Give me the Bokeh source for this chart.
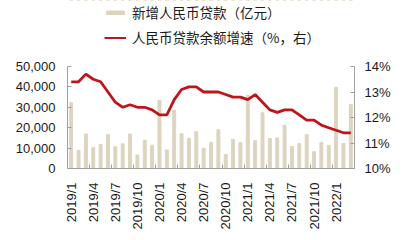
from bokeh.plotting import figure
from bokeh.layouts import column
from bokeh.models import (Range1d, LinearAxis, FixedTicker, NumeralTickFormatter,
                          PrintfTickFormatter, Legend, LegendItem, ColumnDataSource)
from bokeh.embed import file_html
from bokeh.resources import INLINE
import math

months = [f"{y}/{m}" for y in (2019, 2020, 2021) for m in range(1, 13)] + ["2022/1", "2022/2", "2022/3"]

new_loans = [32300, 8858, 16900, 10200, 11800, 16600, 10600, 12100, 16900, 6613, 13900, 11400,
             33400, 9057, 28500, 17000, 14800, 18100, 9927, 12800, 19000, 6898, 14300, 12600,
             35800, 13600, 27300, 14700, 15000, 21200, 10800, 12200, 16600, 8262, 12700, 11300,
             39800, 12300, 31300]

loan_growth = [13.4, 13.4, 13.7, 13.5, 13.4, 13.0, 12.6, 12.4, 12.5, 12.4, 12.4, 12.3,
               12.1, 12.1, 12.7, 13.1, 13.2, 13.2, 13.0, 13.0, 13.0, 12.9, 12.8, 12.8,
               12.7, 12.9, 12.6, 12.3, 12.2, 12.3, 12.3, 12.1, 11.9, 11.9, 11.7, 11.6,
               11.5, 11.4, 11.4]

left_ticks = [0, 10000, 20000, 30000, 40000, 50000]
right_ticks = [10, 11, 12, 13, 14]
label_every = 3

bar_label = "新增人民币贷款（亿元）"
line_label = "人民币贷款余额增速（%，右）"

idx = list(range(len(months)))
src = ColumnDataSource(dict(x=idx, loans=new_loans, growth=loan_growth))

num_font = "Liberation Sans"
cjk_font = "Noto Sans CJK SC"
axis_col = "#a0a0a0"
txt_col = "#1a1a1a"
bar_col = "#ddd4c0"
line_col = "#c0141b"

# ---- legend strip on top (its frame is aligned with the main chart's frame) ----
lg = figure(width=411, height=50, output_backend="svg", toolbar_location=None,
            x_range=Range1d(-0.5, len(months) - 0.5), y_range=Range1d(-2, -1),
            min_border_left=67, min_border_right=57, min_border_top=0, min_border_bottom=0,
            x_axis_type=None, y_axis_type=None)
lg.outline_line_color = None
lg.xgrid.visible = False
lg.ygrid.visible = False
lb = lg.vbar(x="x", top="loans", width=0.4, source=src, color=bar_col)
ll = lg.line(x="x", y="loans", source=src, color=line_col, line_width=2)
legend = Legend(items=[LegendItem(label=bar_label, renderers=[lb]),
                       LegendItem(label=line_label, renderers=[ll])],
                location=(37, 3), orientation="vertical",
                label_text_font=cjk_font, label_text_font_size="13.5px",
                label_text_color=txt_col, glyph_width=22, glyph_height=5,
                label_standoff=6, spacing=5, label_height=16, padding=0, margin=0,
                border_line_color=None, background_fill_alpha=0)
lg.add_layout(legend, "center")

# ---- main chart ----
p = figure(width=411, height=190, output_backend="svg", toolbar_location=None,
           x_range=Range1d(-0.5, len(months) - 0.5), y_range=Range1d(0, 50000),
           min_border_left=67, min_border_right=57, min_border_top=16, min_border_bottom=72)
p.outline_line_color = None
p.xgrid.visible = False
p.ygrid.visible = False

p.extra_y_ranges = {"r": Range1d(10, 14)}

bars = p.vbar(x="x", top="loans", width=0.4, source=src, color=bar_col)
line = p.line(x="x", y="growth", source=src, y_range_name="r", color=line_col, line_width=2.8)

# left axis
ya = p.yaxis[0]
ya.ticker = FixedTicker(ticks=left_ticks)
ya.formatter = NumeralTickFormatter(format="0,0")
ya.major_label_text_font = num_font
ya.major_label_text_font_size = "13px"
ya.major_label_text_color = txt_col
ya.axis_line_color = axis_col
ya.major_tick_line_color = axis_col
ya.major_tick_in = 4
ya.major_tick_out = 0
ya.minor_tick_line_color = None
ya.major_label_standoff = 12

# right axis
ra = LinearAxis(y_range_name="r", ticker=FixedTicker(ticks=right_ticks),
                formatter=PrintfTickFormatter(format="%d%%"))
ra.major_label_text_font = num_font
ra.major_label_text_font_size = "13px"
ra.major_label_text_color = txt_col
ra.axis_line_color = axis_col
ra.major_tick_line_color = axis_col
ra.major_tick_in = 4
ra.major_tick_out = 0
ra.minor_tick_line_color = None
ra.major_label_standoff = 10
p.add_layout(ra, "right")

# bottom axis
xa = p.xaxis[0]
major = idx[::label_every]
minor = [i - 0.5 for i in major if i > 0] + [len(months) - 0.5]
xa.ticker = FixedTicker(ticks=major, minor_ticks=minor)
xa.major_label_overrides = {i: months[i] for i in major}
xa.major_label_orientation = math.pi / 2
xa.major_label_text_font = num_font
xa.major_label_text_font_size = "13px"
xa.major_label_text_color = txt_col
xa.axis_line_color = axis_col
xa.major_tick_line_color = None
xa.minor_tick_line_color = axis_col
xa.minor_tick_in = 4
xa.minor_tick_out = 0
xa.major_label_standoff = 8

layout = column(lg, p, spacing=0)
open("out.html", "w").write(file_html(layout, INLINE))
